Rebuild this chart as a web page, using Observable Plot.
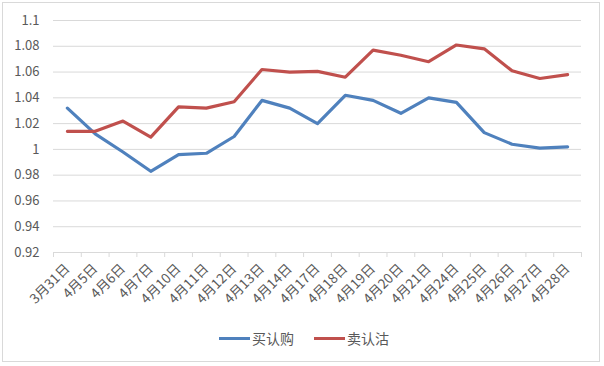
<!DOCTYPE html>
<html>
<head>
<meta charset="utf-8">
<script src="https://cdn.jsdelivr.net/npm/d3@7"></script>
<script src="https://cdn.jsdelivr.net/npm/@observablehq/plot@0.6"></script>
<style>
  html, body { margin: 0; padding: 0; background: #fff; }
  #wrap { position: relative; width: 604px; height: 366px; overflow: hidden; font-family: "Noto Sans CJK SC", "Noto Sans", sans-serif; }
  #frame { position: absolute; left: 2px; top: 2px; width: 596px; height: 358px; border: 1px solid #d9d9d9; box-sizing: content-box; }
  #chart { position: absolute; left: 0; top: 0; }
  #legend { position: absolute; left: 0; top: 328px; width: 604px; display: flex; justify-content: center; gap: 20px; font-size: 14px; color: #595959; padding-left: 2px; }
  .item { display: flex; align-items: center; }
  .sw { display: inline-block; width: 31px; height: 3px; margin-right: 2px; }
</style>
</head>
<body>
<div id="wrap">
  <div id="frame"></div>
  <div id="chart"></div>
  <div id="legend"></div>
</div>
<script>
const categories = ["3月31日","4月5日","4月6日","4月7日","4月10日","4月11日","4月12日","4月13日","4月14日","4月17日","4月18日","4月19日","4月20日","4月21日","4月24日","4月25日","4月26日","4月27日","4月28日"];
const seriesNames = ["买认购", "卖认沽"];
const buyCall = [1.032,1.012,0.998,0.983,0.996,0.997,1.010,1.038,1.032,1.020,1.042,1.038,1.028,1.040,1.0365,1.013,1.004,1.001,1.002];
const sellPut = [1.014,1.014,1.022,1.0095,1.033,1.032,1.037,1.062,1.060,1.0605,1.056,1.077,1.073,1.068,1.081,1.078,1.061,1.055,1.058];
const yTicks = [0.92,0.94,0.96,0.98,1,1.02,1.04,1.06,1.08,1.1];
const colors = ["#4F81BD", "#C0504D"];

const rows = [];
categories.forEach((c, i) => {
  rows.push({i, cat: c, value: buyCall[i], series: seriesNames[0]});
  rows.push({i, cat: c, value: sellPut[i], series: seriesNames[1]});
});
const boundaries = d3.range(-0.5, categories.length, 1);

const plot = Plot.plot({
  width: 604,
  height: 320,
  marginLeft: 53,
  marginRight: 23,
  marginTop: 20,
  marginBottom: 68,
  style: {fontFamily: '"Noto Sans CJK SC", "Noto Sans", sans-serif', fontSize: "13px", color: "#595959", background: "transparent"},
  x: {type: "linear", domain: [-0.5, categories.length - 0.5], label: null},
  y: {domain: [0.92, 1.1], label: null},
  color: {domain: seriesNames, range: colors},
  marks: [
    Plot.gridY(yTicks, {stroke: "#d9d9d9", strokeOpacity: 1, strokeWidth: 1}),
    Plot.axisY(yTicks, {tickSize: 0, tickPadding: 14, label: null, tickFormat: d => String(+d.toFixed(2)), fontSize: 13, fill: "#595959"}),
    Plot.axisX(boundaries, {tickSize: 5, label: null, tickFormat: () => "", stroke: "#d9d9d9", strokeOpacity: 1}),
    Plot.axisX(d3.range(categories.length), {tickSize: 0, tickPadding: 14, label: null, tickRotate: -45, tickFormat: i => categories[i], fontSize: 13.5, fill: "#595959"}),
    Plot.line(rows, {x: "i", y: "value", z: "series", stroke: "series", strokeWidth: 3.2, strokeLinejoin: "round", strokeLinecap: "round"})
  ]
});
document.getElementById("chart").appendChild(plot);

const legend = document.getElementById("legend");
seriesNames.forEach((s, k) => {
  const item = document.createElement("span");
  item.className = "item";
  const sw = document.createElement("span");
  sw.className = "sw";
  sw.style.background = colors[k];
  item.appendChild(sw);
  item.appendChild(document.createTextNode(s));
  legend.appendChild(item);
});
</script>
</body>
</html>
